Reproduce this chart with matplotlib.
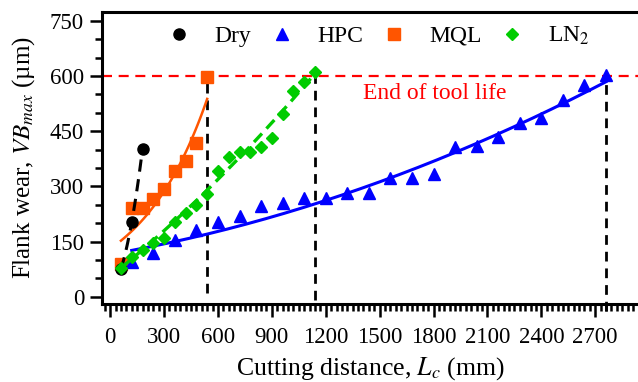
import numpy as np
import matplotlib
matplotlib.use("Agg")
import matplotlib.pyplot as plt
from matplotlib.ticker import MultipleLocator

plt.rcParams['font.family'] = ['Liberation Serif', 'DejaVu Serif']
plt.rcParams['mathtext.fontset'] = 'stix'

# ---- data ----
dry_x = [60, 120, 180]
dry_y = [75, 203, 402]

mql_x = [60, 120, 180, 240, 300, 360, 420, 480, 540]
mql_y = [88, 240, 240, 265, 292, 342, 368, 418, 597]

hpc_x = [120, 240, 360, 480, 600, 720, 840, 960, 1080, 1200, 1320, 1440,
         1560, 1680, 1800, 1920, 2040, 2160, 2280, 2400, 2520, 2640, 2760]
hpc_y = [93, 118, 154, 182, 204, 219, 247, 256, 269, 269, 283, 283,
         322, 322, 333, 407, 410, 434, 473, 486, 536, 577, 602]

ln2_x = [60, 120, 180, 240, 300, 360, 420, 480, 540, 600, 660, 720, 780,
         840, 900, 960, 1020, 1080, 1140]
ln2_y = [78, 107, 126, 145, 160, 203, 228, 250, 278, 342, 380, 393, 394,
         407, 432, 496, 560, 584, 610]

# fitted trend lines (coefficients)
mql_fit = [130.0, 0.00263]          # y = a*exp(b*x)
hpc_fit = [3.07e-5, 0.0854, 115.1]  # quadratic
ln2_fit = [8.02e-5, 0.3934, 54.1]   # quadratic

tool_life = 600
end_x = [540, 1140, 2760]

x_ticks = [0, 300, 600, 900, 1200, 1500, 1800, 2100, 2400, 2700]
y_ticks = [0, 150, 300, 450, 600, 750]

# ---- figure ----
fig = plt.figure(figsize=(6.38, 3.82), dpi=100)
ax = fig.add_axes([0.16, 0.2042, 0.84, 0.765])

c_dry, c_hpc, c_mql, c_ln2 = 'black', '#0000FF', '#FF5500', '#00CC00'

ax.axhline(tool_life, color='#FF0000', lw=1.6, ls=(0, (4.5, 3)), zorder=1)
ax.vlines(end_x[:2], [10, -10], tool_life, colors='black', lw=2,
          linestyles=(0, (3.5, 2.5)), zorder=1)
ax.vlines(end_x[2:], [-40], tool_life, colors='black', lw=2,
          linestyles=(0, (3.5, 2.5)), zorder=1, clip_on=False)

# fits
xm = np.linspace(mql_x[0], mql_x[-1], 100)
ax.plot(xm, mql_fit[0] * np.exp(mql_fit[1] * xm), color=c_mql, lw=1.8, zorder=3)
ax.plot(mql_x, mql_y, ls='none', marker='s', ms=8.5, color=c_mql, label='MQL', zorder=2)

xd = np.linspace(dry_x[0], dry_x[-1], 50)
pd_ = np.polyfit(dry_x, dry_y, 2)
ax.plot(xd, np.polyval(pd_, xd), color=c_dry, lw=2.2, ls=(0, (4, 2.5)), zorder=3)
ax.plot(dry_x, dry_y, ls='none', marker='o', ms=8, color=c_dry, label='Dry', zorder=3)

xh = np.linspace(hpc_x[0], hpc_x[-1], 200)
ax.plot(xh, np.polyval(hpc_fit, xh), color=c_hpc, lw=2.2, zorder=4)
ax.plot(hpc_x, hpc_y, ls='none', marker='^', ms=9, color=c_hpc, label='HPC', zorder=4)

xl = np.linspace(ln2_x[0], ln2_x[-1], 200)
ax.plot(xl, np.polyval(ln2_fit, xl), color=c_ln2, lw=2.4, ls=(0, (3.5, 2)), zorder=5)
ax.plot(ln2_x, ln2_y, ls='none', marker='D', ms=6.5, color=c_ln2, label='LN$_2$', zorder=5)

ax.text(1408, 553, 'End of tool life', color='#FF0000', fontsize=17,
        ha='left', va='center')

ax.set_xlim(-45, 2938)
ax.set_ylim(-20, 775)
ax.set_xticks(x_ticks)
ax.set_yticks(y_ticks)
ax.xaxis.set_minor_locator(MultipleLocator(30))
ax.yaxis.set_minor_locator(MultipleLocator(50))
ax.tick_params(which='major', direction='out', length=9, width=1.8,
               labelsize=16.5, pad=4)
ax.tick_params(axis='x', which='major', pad=7.5)
ax.tick_params(which='minor', direction='out', length=4.8, width=1.8)
for s in ['left', 'bottom', 'top']:
    ax.spines[s].set_linewidth(2.2)
ax.spines['right'].set_visible(False)

ax.set_xlabel('Cutting distance, $L_c$ (mm)', fontsize=18.5, labelpad=5)
ax.set_ylabel('Flank wear, $VB_{max}$ (µm)', fontsize=18, labelpad=9)

h, l = ax.get_legend_handles_labels()
order = [l.index('Dry'), l.index('HPC'), l.index('MQL'), l.index('LN$_2$')]
ax.legend([h[i] for i in order], [l[i] for i in order], ncol=4, frameon=False,
          loc='center', bbox_to_anchor=(0.515, 0.917), fontsize=17,
          handlelength=1.0, handletextpad=1.0, columnspacing=0.8,
          borderpad=0, borderaxespad=0)

fig.savefig('out.png', dpi=100)
